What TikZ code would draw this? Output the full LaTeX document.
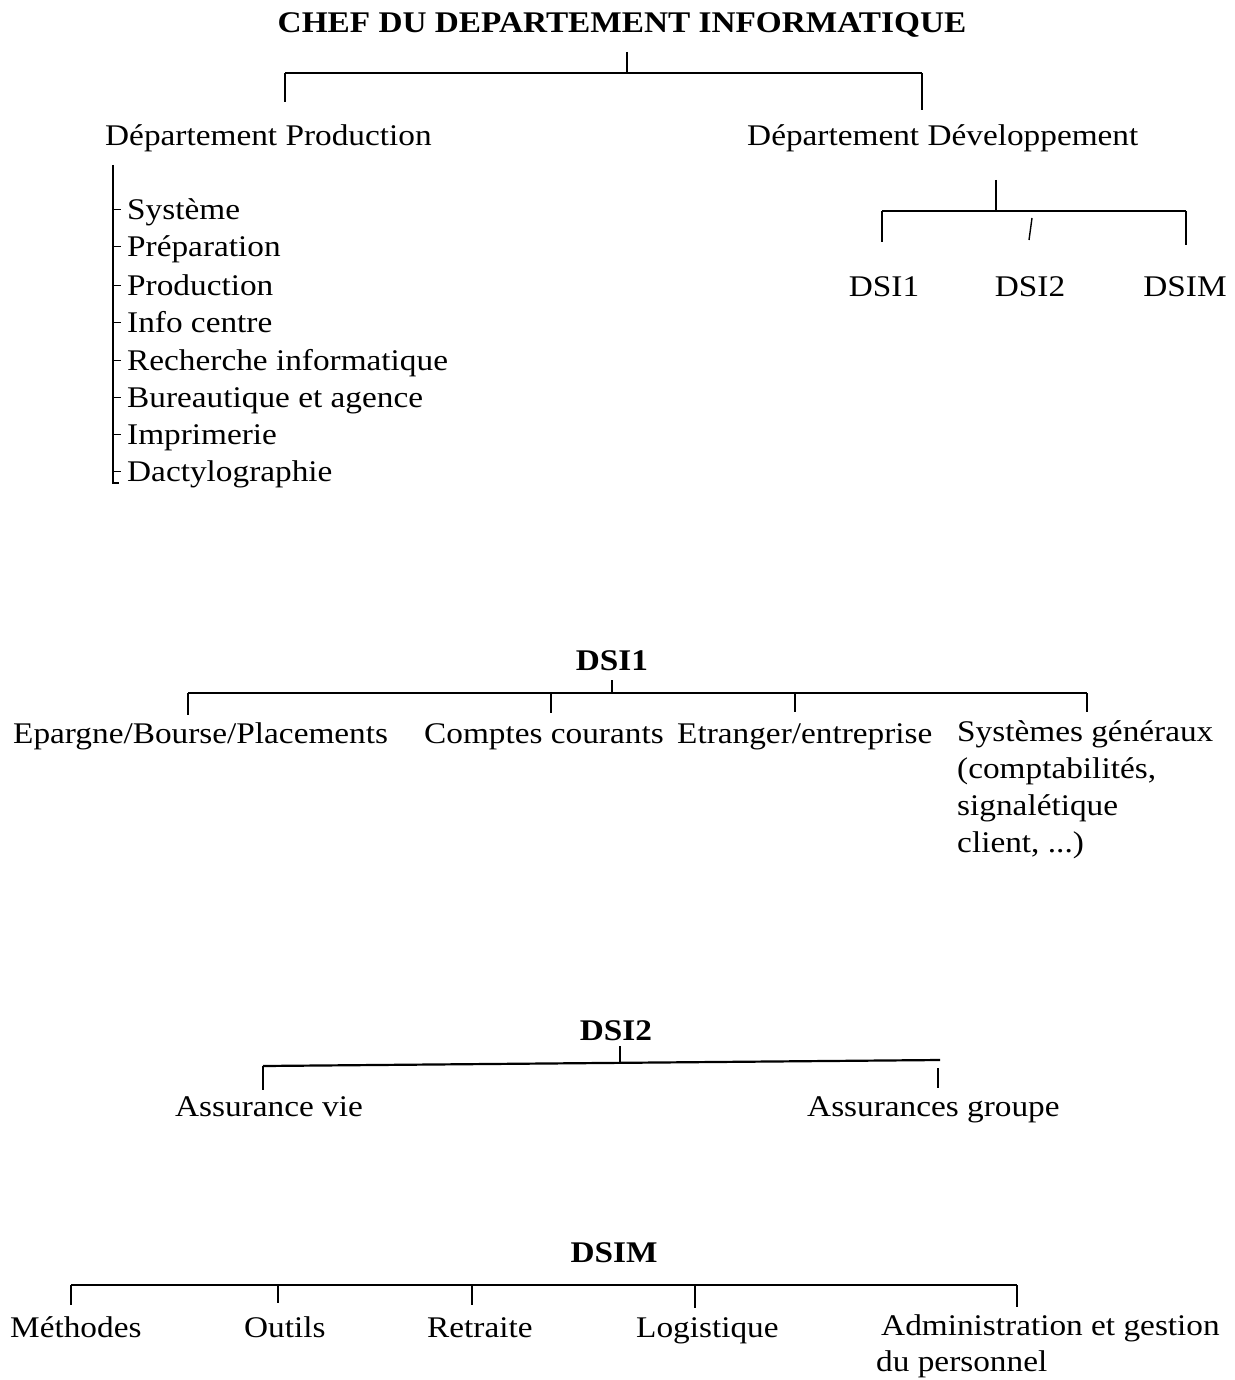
\documentclass[tikz,border=0pt]{standalone}
\usepackage{fontspec}
\setmainfont{Liberation Serif}[FakeStretch=1.11]
\begin{document}
\begin{tikzpicture}[x=1pt,y=-1pt,
  lbl/.style={inner sep=0pt,anchor=base west,font=\fontsize{30}{36}\selectfont},
  head/.style={inner sep=0pt,anchor=base,font=\bfseries\fontsize{30}{36}\selectfont},
  bar/.style={line width=2.2pt},
  drop/.style={line width=1.4pt}]
\useasboundingbox (0,0) rectangle (1234,1380);
% ---- top
\node[head] (chef) at (622,33) {CHEF DU DEPARTEMENT INFORMATIQUE};
\node[lbl] (prod) at (105,146) {Département Production};
\node[lbl] (dev) at (747,146) {Département Développement};
\coordinate (c0) at (627,52);
\coordinate (c1) at (627,73);
\coordinate (cL) at (285,73);
\coordinate (cR) at (922,73);
\draw[drop] (c0) -- (c1);
\draw[bar] (cL) -- (cR);
\draw[drop] (cL) -- (285,102) coordinate (pL);
\draw[drop] (cR) -- (922,110) coordinate (dR);
% ---- production list
\foreach \t/\y [count=\i] in {Système/210,Préparation/247,Production/285,Info centre/322,Recherche informatique/360,Bureautique et agence/397,Imprimerie/434,Dactylographie/471}{
  \node[lbl] (p\i) at (127,\y+10) {\t};
  \draw[drop,line width=1pt] (113,\y) -- ([xshift=-6pt]p\i.west |- 0,\y);
}
\coordinate (v0) at (113,165);
\coordinate (v1) at (113,483);
\draw[drop] (v0) -- (v1) -- (119,483);
% ---- developpement subtree
\node[lbl,anchor=base] (dsi1) at (884,296) {DSI1};
\node[lbl,anchor=base] (dsi2) at (1030,296) {DSI2};
\node[lbl,anchor=base] (dsim) at (1185,296) {DSIM};
\coordinate (d0) at (996,180);
\coordinate (d1) at (996,211);
\coordinate (dA) at (882,211);
\coordinate (dB) at (1186,211);
\draw[drop] (d0) -- (d1);
\draw[bar] (dA) -- (dB);
\draw[drop] (dA) -- (882,242);
\draw[drop] (dB) -- (1186,245);
\draw[drop] (1032,218) coordinate (dm0) -- (1029,240) coordinate (dm1);
% ---- DSI1
\node[head] (h1) at (612,670) {DSI1};
\node[lbl] (e1) at (13,743) {Epargne/Bourse/Placements};
\node[lbl] (e2) at (424,743) {Comptes courants};
\node[lbl] (e3) at (677,743) {Etranger/entreprise};
\node[lbl,align=left,anchor=north west,font=\fontsize{30}{37.3}\selectfont] (e4) at (957,720) {Systèmes généraux\\(comptabilités,\\signalétique\\client, ...)};
\coordinate (s0) at (612,680);
\coordinate (s1) at (612,693);
\coordinate (sA) at (188,693);
\coordinate (sB) at (1087,693);
\draw[drop] (s0) -- (s1);
\draw[bar] (sA) -- (sB);
\draw[drop] (sA) -- (188,715);
\draw[drop] (551,693) -- (551,713);
\draw[drop] (795,693) -- (795,712);
\draw[drop] (sB) -- (1087,712);
% ---- DSI2
\node[head] (h2) at (616,1040) {DSI2};
\node[lbl] (a1) at (175,1116) {Assurance vie};
\node[lbl] (a2) at (807,1116) {Assurances groupe};
\coordinate (t0) at (620,1046);
\coordinate (t1) at (620,1063);
\coordinate (tA) at (263,1066);
\coordinate (tB) at (940,1060);
\draw[drop] (t0) -- (t1);
\draw[bar] (tA) -- (tB);
\draw[drop] (tA) -- (263,1090);
\draw[drop] (938,1068) -- (938,1088);
% ---- DSIM
\node[head] (h3) at (614,1262) {DSIM};
\node[lbl] (m1) at (10,1337) {Méthodes};
\node[lbl] (m2) at (244,1337) {Outils};
\node[lbl] (m3) at (427,1337) {Retraite};
\node[lbl] (m4) at (636,1337) {Logistique};
\node[lbl,align=left,anchor=north west,font=\fontsize{30}{36}\selectfont] (m5) at (876,1314) {\hspace{5pt}Administration et gestion\\du personnel};
\coordinate (uA) at (71,1285);
\coordinate (uB) at (1017,1285);
\draw[bar] (uA) -- (uB);
\draw[drop] (uA) -- (71,1305);
\draw[drop] (278,1285) -- (278,1303);
\draw[drop] (472,1285) -- (472,1305);
\draw[drop] (695,1285) -- (695,1308);
\draw[drop] (uB) -- (1017,1307);
\end{tikzpicture}
\end{document}
